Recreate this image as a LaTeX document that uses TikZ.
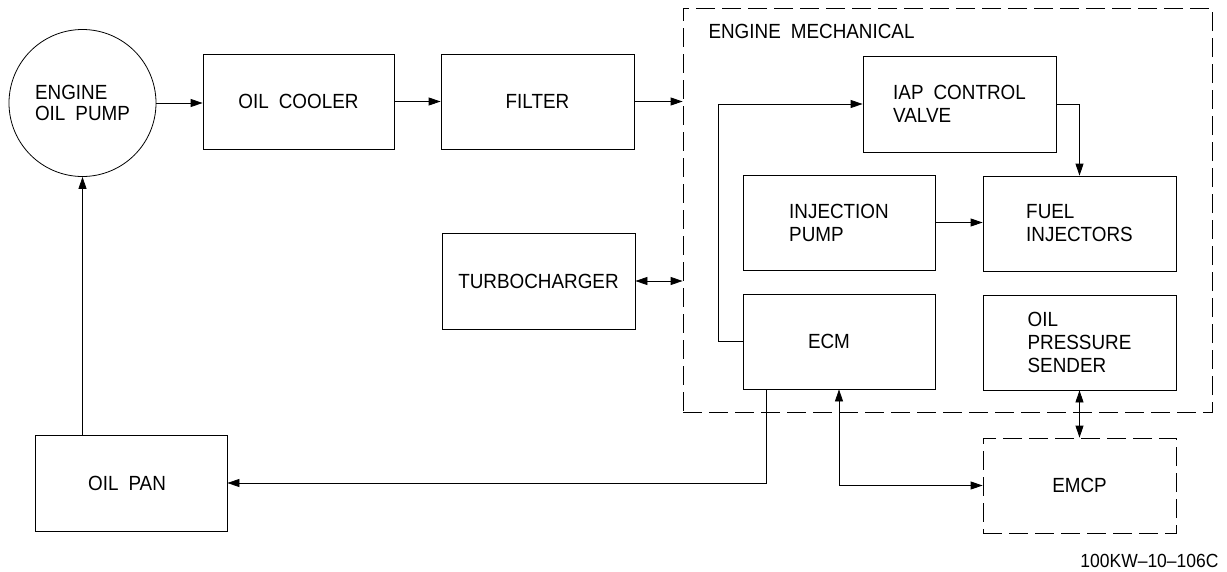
\documentclass[tikz,border=0pt]{standalone}
\usepackage{fontspec}
\setmainfont{Liberation Sans}[FakeStretch=0.92]
\usetikzlibrary{arrows.meta,shapes.geometric,calc}
\newcommand{\wsp}{\hspace{10pt}}
\begin{document}
\begin{tikzpicture}[x=1pt,y=-1pt,
  every node/.style={font=\fontsize{20.5}{23}\selectfont},
  blk/.style={draw,line width=0.8pt,rectangle,inner sep=0pt,align=left},
  dbox/.style={draw,line width=0.8pt,dash pattern=on 19pt off 7pt,rectangle,inner sep=0pt},
  flow/.style={line width=0.8pt,-{Triangle[length=12pt,width=8pt]}},
  flowtwo/.style={line width=0.8pt,{Triangle[length=12pt,width=8pt]}-{Triangle[length=12pt,width=8pt]}},
  lin/.style={line width=0.8pt}]
\useasboundingbox (0,0) rectangle (1227,571);
% outer dashed group
\node[dbox,minimum width=529,minimum height=404] (em) at (947.5,210) {};
\node[anchor=base west] (title) at (705,38.5) {ENGINE\wsp MECHANICAL};
% blocks
\node[draw,circle,line width=0.8pt,minimum size=147,inner sep=0pt,align=left] (pump) at (82.5,103) {ENGINE\\[-2pt]OIL\wsp PUMP};
\node[blk,minimum width=191,minimum height=95] (cooler) at (298.5,101.5) {OIL\wsp COOLER};
\node[blk,minimum width=193,minimum height=95] (filter) at (537.5,101.5) {FILTER};
\node[blk,minimum width=193,minimum height=96] (turbo) at (538.5,281) {TURBOCHARGER};
\node[blk,minimum width=192,minimum height=96] (oilpan) at (131,483) {OIL\wsp PAN\hspace{8pt}};
\node[blk,minimum width=193,minimum height=96] (iap) at (959.5,104) {IAP\wsp CONTROL\\VALVE};
\node[blk,minimum width=192,minimum height=95] (injpump) at (839,222.5) {INJECTION\\PUMP};
\node[blk,minimum width=193,minimum height=95] (fuel) at (1079.5,223.5) {FUEL\\INJECTORS\hspace{20pt}};
\node[blk,minimum width=192,minimum height=95] (ecm) at (839,341.5) {ECM\hspace{20pt}};
\node[blk,minimum width=193,minimum height=95] (ops) at (1079.5,342.5) {OIL\\PRESSURE\\SENDER};
\node[dbox,minimum width=193,minimum height=95] (emcp) at (1079.5,485.5) {EMCP\hspace{7pt}};
\node[anchor=base east,font=\fontsize{19}{23}\selectfont] (code) at (1222,567) {100KW–10–106C};
% connectors
\draw[flow] (pump.east) -- (pump.east -| cooler.west);
\draw[flow] (cooler.east) -- (cooler.east -| filter.west);
\draw[flow] (filter.east) -- (filter.east -| em.west);
\draw[flowtwo] (turbo.east) -- (turbo.east -| em.west);
\draw[flow] (ecm.west) -- ++(-24,0) |- (iap.west);
\draw[flow] (iap.east) -| (fuel.north);
\draw[flow] (injpump.east) -- (injpump.east -| fuel.west);
\draw[flow] ([xshift=24pt]ecm.south west) |- (oilpan.east);
\draw[flowtwo] (ecm.south) |- (emcp.west);
\draw[flowtwo] (ops.south) -- (emcp.north);
\draw[flow] (pump.south |- oilpan.north) -- (pump.south);
\end{tikzpicture}
\end{document}
